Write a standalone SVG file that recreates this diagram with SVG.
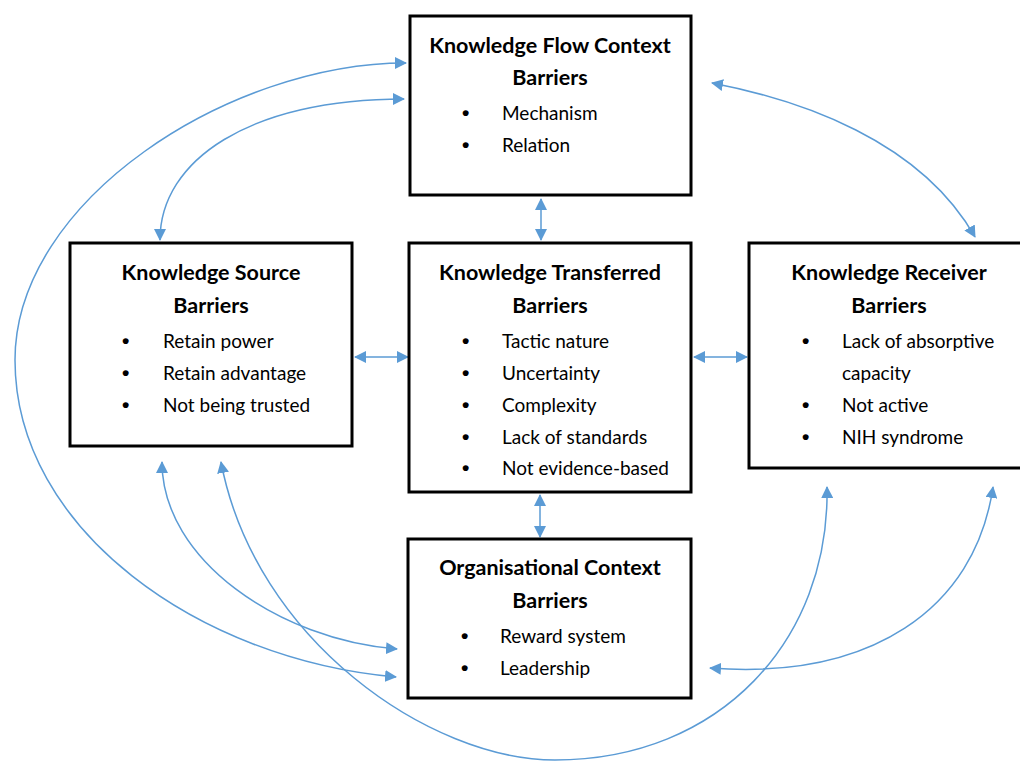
<svg xmlns="http://www.w3.org/2000/svg" width="1020" height="762" viewBox="0 0 1020 762">
<defs>
<marker id="ah" viewBox="0 0 12 12" refX="11" refY="6" markerWidth="12" markerHeight="12" markerUnits="userSpaceOnUse" orient="auto-start-reverse">
<path d="M0,0 L12,6 L0,12 Z" fill="#5B9BD5"/>
</marker>
<style>
.box{fill:#fff;stroke:#000;stroke-width:3}
.t{font-family:Lato,"Open Sans","Liberation Sans",sans-serif;font-weight:bold;font-size:21.5px;fill:#000;text-anchor:middle}
.i{font-family:Lato,"Open Sans","Liberation Sans",sans-serif;font-size:19px;fill:#000}
.b{font-family:"Liberation Sans",sans-serif;font-weight:bold;font-size:21px;fill:#000}
.c{fill:none;stroke:#5B9BD5;stroke-width:1.5;marker-start:url(#ah);marker-end:url(#ah)}
</style>
</defs>
<rect width="1020" height="762" fill="#fff"/>
<g id="connectors">
<path class="c" d="M541,199 L541,240"/>
<path class="c" d="M540,495 L540,537"/>
<path class="c" d="M355,357 L408,357"/>
<path class="c" d="M694,357 L747,357"/>
<path class="c" d="M404,99 C250,99 160,160 160,240"/>
<path class="c" d="M406,63 C230,63 15,200 15,360 C15,530 200,660 396,677"/>
<path class="c" d="M162,462 C162,560 280,640 397,649"/>
<path class="c" d="M221,462 C255,640 430,760 555,760 C720,760 830,640 827,487"/>
<path class="c" d="M993,487 C975,610 870,680 710,668"/>
<path class="c" d="M712,83 C800,100 920,140 975,237"/>
</g>
<g id="flow">
<rect class="box" x="410" y="16" width="281" height="179"/>
<text class="t" x="550" y="53">Knowledge Flow Context</text>
<text class="t" x="550" y="85">Barriers</text>
<text class="b" x="462" y="120">•</text><text class="i" x="502" y="120">Mechanism</text>
<text class="b" x="462" y="152">•</text><text class="i" x="502" y="152">Relation</text>
</g>
<g id="source">
<rect class="box" x="70" y="243" width="282" height="203"/>
<text class="t" x="211" y="280">Knowledge Source</text>
<text class="t" x="211" y="313">Barriers</text>
<text class="b" x="122" y="348">•</text><text class="i" x="163" y="348">Retain power</text>
<text class="b" x="122" y="380">•</text><text class="i" x="163" y="380">Retain advantage</text>
<text class="b" x="122" y="412">•</text><text class="i" x="163" y="412">Not being trusted</text>
</g>
<g id="transferred">
<rect class="box" x="409" y="243" width="282" height="249"/>
<text class="t" x="550" y="280">Knowledge Transferred</text>
<text class="t" x="550" y="313">Barriers</text>
<text class="b" x="462" y="348">•</text><text class="i" x="502" y="348">Tactic nature</text>
<text class="b" x="462" y="380">•</text><text class="i" x="502" y="380">Uncertainty</text>
<text class="b" x="462" y="412">•</text><text class="i" x="502" y="412">Complexity</text>
<text class="b" x="462" y="444">•</text><text class="i" x="502" y="444">Lack of standards</text>
<text class="b" x="462" y="475">•</text><text class="i" x="502" y="475">Not evidence-based</text>
</g>
<g id="receiver">
<rect class="box" x="749" y="243" width="284" height="225"/>
<text class="t" x="889" y="280">Knowledge Receiver</text>
<text class="t" x="889" y="313">Barriers</text>
<text class="b" x="802" y="348">•</text><text class="i" x="842" y="348">Lack of absorptive</text>
<text class="i" x="842" y="380">capacity</text>
<text class="b" x="802" y="412">•</text><text class="i" x="842" y="412">Not active</text>
<text class="b" x="802" y="444">•</text><text class="i" x="842" y="444">NIH syndrome</text>
</g>
<g id="organisational">
<rect class="box" x="408" y="539" width="283" height="159"/>
<text class="t" x="550" y="575">Organisational Context</text>
<text class="t" x="550" y="608">Barriers</text>
<text class="b" x="461" y="643">•</text><text class="i" x="500" y="643">Reward system</text>
<text class="b" x="461" y="675">•</text><text class="i" x="500" y="675">Leadership</text>
</g>
</svg>
